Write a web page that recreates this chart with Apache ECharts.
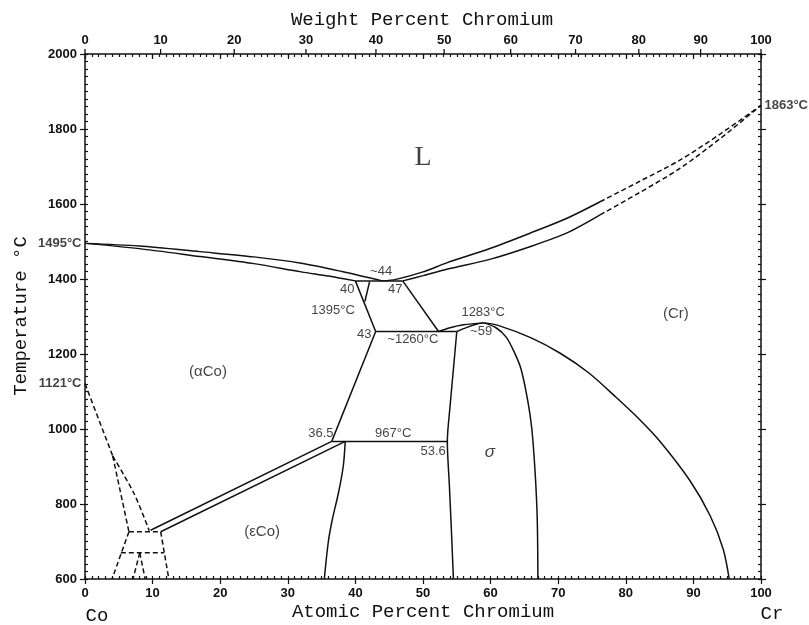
<!DOCTYPE html>
<html lang="en">
<head>
<meta charset="UTF-8">
<title>Co-Cr</title>
<style>
  html, body { margin: 0; padding: 0; background: #fff; }
  #chart { width: 809px; height: 625px; }
</style>
<script src="https://cdn.jsdelivr.net/npm/echarts@6.0.0/dist/echarts.min.js"></script>
</head>
<body>
<div id="chart"></div>
<script>
// all curves: [atomic % Cr, temperature °C]
var liqLeft = [[0,1495],[8,1488],[17,1473],[25,1459],[32,1442],[38,1420],[44,1395]];
var solLeft = [[0,1495],[8,1481],[17,1460],[25,1441],[32,1419],[36,1408],[40,1395]];
var liqRight = [[44,1395],[46,1399],[50,1419],[53.5,1443],[60,1482],[65.8,1522],[71.3,1562],[76.2,1606]];
var solRight = [[47,1395],[50,1409],[53.5,1426],[60,1453],[65.8,1486],[71.3,1523],[76.2,1571]];
var liqDash = [[76.2,1606],[82,1660],[88,1717],[94,1787],[100,1863]];
var solDash = [[76.2,1571],[82,1630],[88,1695],[94,1775],[100,1863]];

var eutectic = [[40,1395],[47,1395]];
var aCoUpper = [[40,1395],[43,1260]];
var aCoLower = [[43,1260],[36.5,967]];
var crLeft = [[47,1395],[52.3,1260]];
var eutectoid1260 = [[43,1260],[55,1260]];
var crDome = [[52.3,1260],[54,1270],[56,1278],[59,1283]];
var sigmaDome = [[55,1260],[56.5,1271],[58,1280],[59,1283]];
var sigmaLeft = [[55,1260],[54.5,1160],[54,1060],[53.6,967],[53.9,850],[54.2,730],[54.5,600]];
var sigmaRight = [[59,1283],[60.8,1270],[62.3,1245],[63.5,1205],[64.5,1160],[65.5,1075],[66.1,1000],[66.6,880],[66.9,760],[67,600]];
var crSolvus = [[59,1283],[61,1277],[66,1243],[70.3,1202],[74.5,1150],[78.6,1084],[82,1026],[85.1,966],[89.5,862],[92.5,768],[94.4,680],[95.3,600]];
var eutectoid967 = [[36.5,967],[53.6,967]];
var epsRight = [[38.5,967],[38.2,900],[37.5,830],[36.6,760],[36,700],[35.4,600]];
var aCoEps = [[9.7,730],[36.5,967]];
var epsAco = [[11.2,726],[38.5,967]];

// dashed low-Cr corner
var magTop = [[0,1121],[4.1,928]];
var magLeft = [[4.1,928],[6.5,726]];
var magRight = [[4.1,928],[7.25,828],[9.5,729]];
var dash726 = [[6.5,726],[11.2,726]];
var dashLowLeft = [[6.5,726],[4.0,600]];
var dashLowRight = [[11.2,726],[12.4,600]];
var dash670 = [[5.3,670],[11.7,670]];
var vLeft = [[8.1,670],[7.1,600]];
var vRight = [[8.1,670],[8.9,600]];
var arrow1395 = [[41.4,1340],[42.1,1393]];

// text labels: [text, at% Cr, °C]
var liquidLabel = [['L', 50, 1723]];
var phaseNames = [['(αCo)', 18.2, 1152], ['(εCo)', 26.2, 725], ['(Cr)', 87.4, 1307]];
var sigmaLabel = [['σ', 59.9, 939]];
var notes = [
  ['~44', 43.8, 1421], ['40', 38.8, 1373], ['47', 45.9, 1371], ['1395°C', 36.7, 1315],
  ['43', 41.3, 1253], ['~1260°C', 48.5, 1240], ['1283°C', 58.9, 1312], ['~59', 58.6, 1259],
  ['36.5', 34.9, 987], ['967°C', 45.6, 987], ['53.6', 51.5, 941]
];
var leftTemps = [['1495°C', 0, 1495], ['1121°C', 0, 1121]];
var rightTemps = [['1863°C', 100, 1863]];

// top axis tick labels, weight % Cr
var wtTicks = [0, 10, 20, 30, 40, 50, 60, 70, 80, 90, 100];

function wtToAt(w) {
  var cr = w / 51.996, co = (100 - w) / 58.933;
  return 100 * cr / (cr + co);
}

var FONT = '"Liberation Sans", Arial, sans-serif';

function curve(data, dashed, smooth) {
  return {
    type: 'line', xAxisIndex: 0, yAxisIndex: 0, data: data,
    symbol: 'none', smooth: smooth ? 0.3 : false, silent: true,
    lineStyle: { color: '#111', width: 1.5, type: dashed ? [5, 3] : 'solid' }
  };
}

function textSeries(list, labelOpt) {
  return {
    type: 'scatter', xAxisIndex: 0, yAxisIndex: 0, symbolSize: 1, silent: true,
    itemStyle: { color: 'transparent' },
    data: list.map(function (d) { return { name: d[0], value: [d[1], d[2]] }; }),
    label: Object.assign({ show: true, formatter: '{b}', color: '#111' }, labelOpt)
  };
}

function plain(v) { return String(v); }

function axisX(pos, interval, tickLen, inside, showLabel, showLine) {
  return {
    type: 'value', position: pos, min: 0, max: 100, interval: interval,
    axisLine: { show: showLine, onZero: false, lineStyle: { color: '#111', width: 1.5 } },
    axisTick: { show: true, inside: inside, length: tickLen, lineStyle: { color: '#111', width: 1.2 } },
    axisLabel: { show: showLabel, formatter: plain, color: '#111', fontFamily: FONT, fontWeight: 'bold', fontSize: 13, margin: 8 },
    splitLine: { show: false }
  };
}
function axisY(pos, interval, tickLen, inside, showLabel, showLine) {
  return {
    type: 'value', position: pos, min: 600, max: 2000, interval: interval,
    axisLine: { show: showLine, onZero: false, lineStyle: { color: '#111', width: 1.5 } },
    axisTick: { show: true, inside: inside, length: tickLen, lineStyle: { color: '#111', width: 1.2 } },
    axisLabel: { show: showLabel, formatter: plain, color: '#111', fontFamily: FONT, fontWeight: 'bold', fontSize: 13, margin: 8 },
    splitLine: { show: false }
  };
}

var chart = echarts.init(document.getElementById('chart'));

var series = [
  curve(liqLeft, false, true), curve(solLeft, false, true),
  curve(liqRight, false, true), curve(solRight, false, true),
  curve(liqDash, true, true), curve(solDash, true, true),
  curve(eutectic), curve(aCoUpper), curve(aCoLower), curve(crLeft), curve(eutectoid1260),
  curve(crDome, false, true), curve(sigmaDome, false, true),
  curve(sigmaLeft, false, true), curve(sigmaRight, false, true), curve(crSolvus, false, true),
  curve(eutectoid967), curve(epsRight, false, true), curve(aCoEps), curve(epsAco),
  curve(magTop, true), curve(magLeft, true), curve(magRight, true, true), curve(dash726, true),
  curve(dashLowLeft, true), curve(dashLowRight, true), curve(dash670, true),
  curve(vLeft, true), curve(vRight, true), curve(arrow1395),
  textSeries(liquidLabel, { position: 'inside', fontFamily: '"Liberation Serif", serif', fontSize: 28 }),
  textSeries(phaseNames, { position: 'inside', fontFamily: FONT, fontSize: 15 }),
  textSeries(sigmaLabel, { position: 'inside', fontFamily: FONT, fontSize: 17, fontStyle: 'italic' }),
  textSeries(notes, { position: 'inside', fontFamily: FONT, fontSize: 13 }),
  textSeries(leftTemps, { position: 'left', distance: 3, fontFamily: FONT, fontWeight: 'bold', fontSize: 13 }),
  textSeries(rightTemps, { position: 'right', distance: 3, fontFamily: FONT, fontWeight: 'bold', fontSize: 13 }),
  {
    // weight percent scale along the top edge
    type: 'custom', xAxisIndex: 0, yAxisIndex: 0, silent: true, clip: false,
    data: wtTicks.map(function (w) { return [wtToAt(w), w]; }),
    renderItem: function (params, api) {
      var p = api.coord([api.value(0), 2000]);
      return {
        type: 'group',
        children: [
          { type: 'line', shape: { x1: p[0], y1: p[1], x2: p[0], y2: p[1] - 5 },
            style: { stroke: '#111', lineWidth: 1.3 } },
          { type: 'text', x: p[0], y: p[1] - 7,
            style: { text: String(api.value(1)), align: 'center', verticalAlign: 'bottom',
                     font: 'bold 13px ' + FONT, fill: '#111' } }
        ]
      };
    }
  }
];

chart.setOption({
  animation: false,
  backgroundColor: '#fff',
  grid: { left: 85, right: 48, top: 54, bottom: 46, containLabel: false },
  xAxis: [
    axisX('bottom', 10, 5, false, true, true),
    axisX('top', 10, 5, true, false, true),
    axisX('bottom', 1, 3, true, false, false),
    axisX('top', 1, 3, true, false, false)
  ],
  yAxis: [
    axisY('left', 200, 5, false, true, true),
    axisY('right', 200, 5, false, false, true),
    axisY('left', 20, 3, true, false, false),
    axisY('right', 20, 3, true, false, false)
  ],
  graphic: [
    { type: 'text', x: 422, y: 20, style: { text: 'Weight Percent Chromium', align: 'center', verticalAlign: 'middle', font: '19px "Liberation Mono", monospace', fill: '#111' } },
    { type: 'text', x: 423, y: 612, style: { text: 'Atomic Percent Chromium', align: 'center', verticalAlign: 'middle', font: '19px "Liberation Mono", monospace', fill: '#111' } },
    { type: 'text', x: 21, y: 316, rotation: Math.PI / 2, style: { text: 'Temperature °C', align: 'center', verticalAlign: 'middle', font: '19px "Liberation Mono", monospace', fill: '#111' } },
    { type: 'text', x: 97, y: 616, style: { text: 'Co', align: 'center', verticalAlign: 'middle', font: '19px "Liberation Mono", monospace', fill: '#111' } },
    { type: 'text', x: 772, y: 614, style: { text: 'Cr', align: 'center', verticalAlign: 'middle', font: '19px "Liberation Mono", monospace', fill: '#111' } }
  ],
  series: series
});
</script>
</body>
</html>
